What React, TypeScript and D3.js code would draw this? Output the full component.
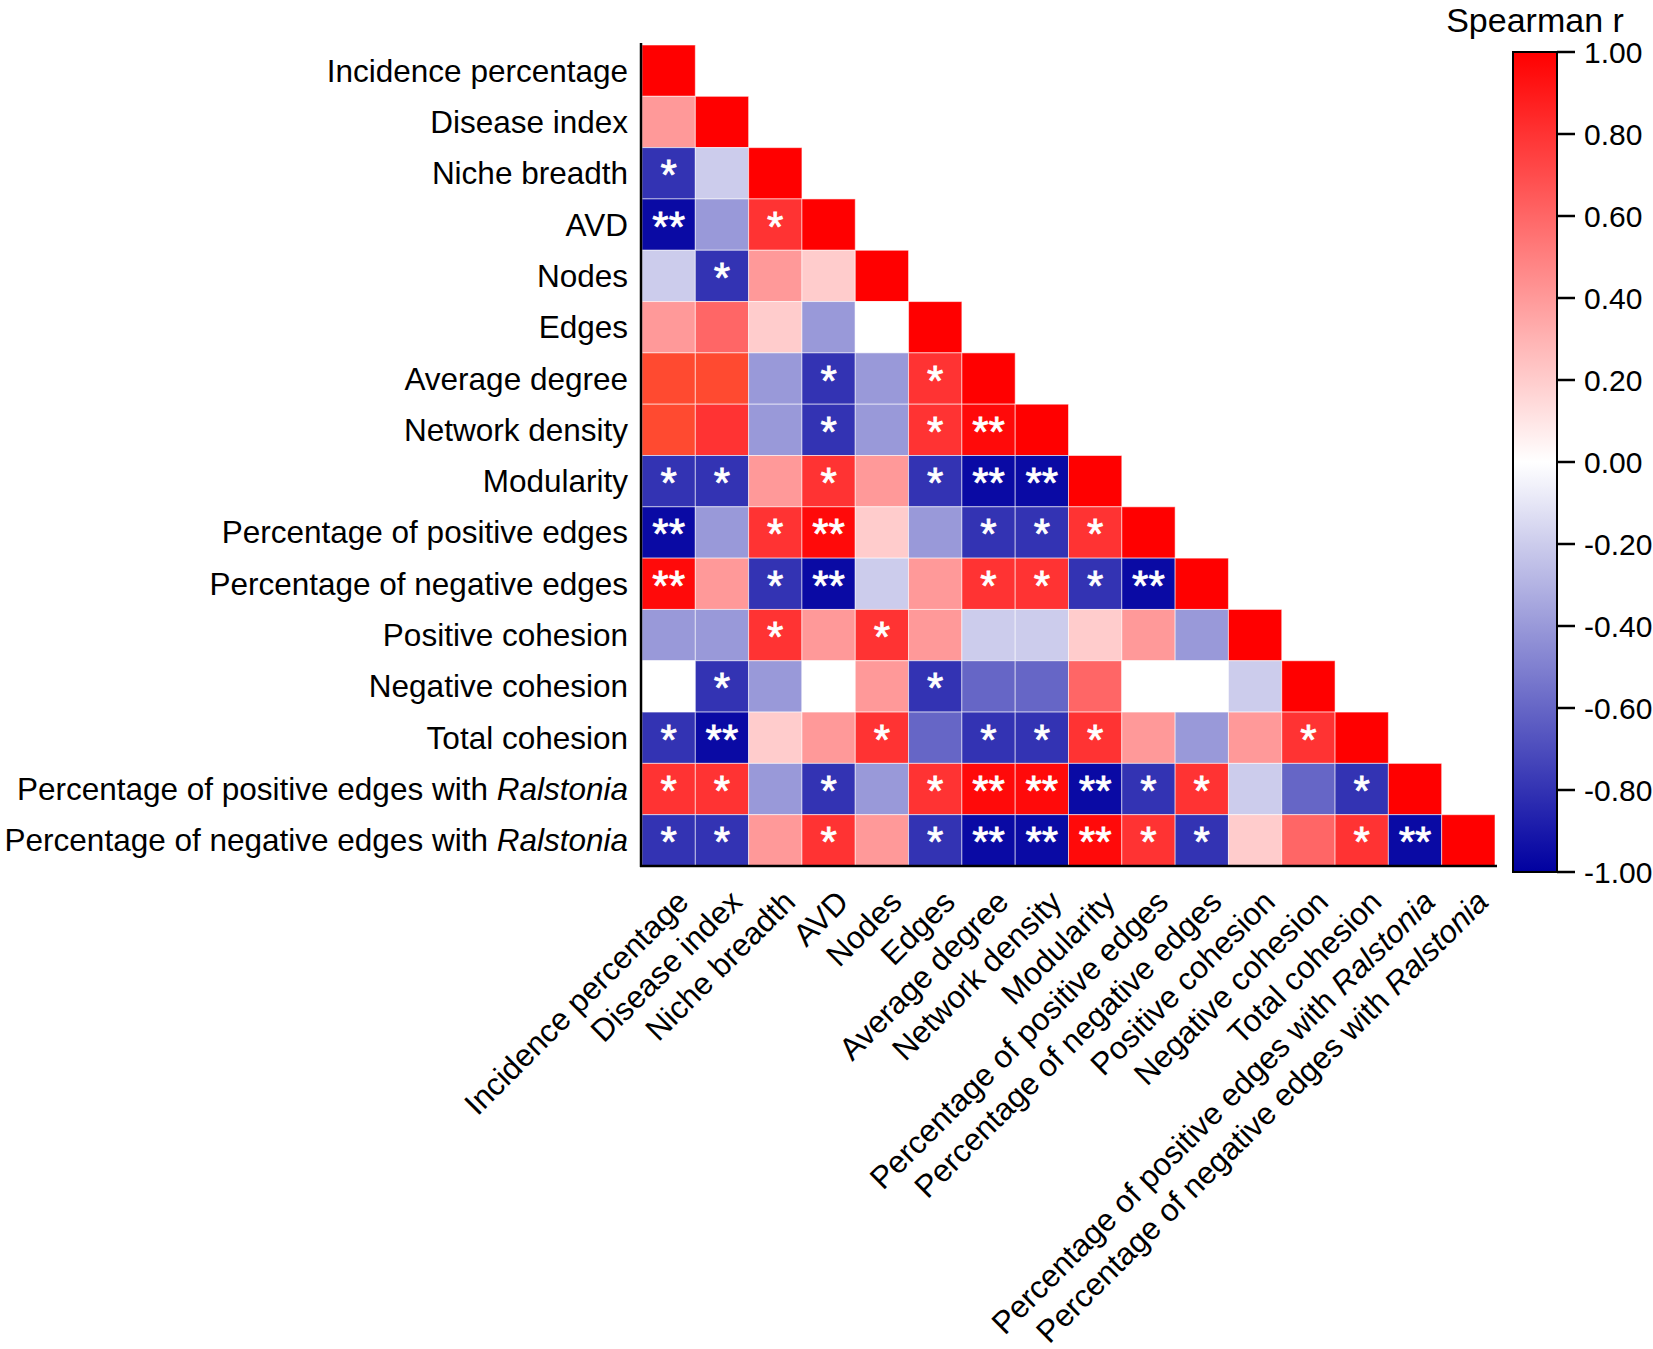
import React from "react";
import * as d3 from "d3";

// ---------- data ----------
const variables: string[] = [
  "Incidence percentage",
  "Disease index",
  "Niche breadth",
  "AVD",
  "Nodes",
  "Edges",
  "Average degree",
  "Network density",
  "Modularity",
  "Percentage of positive edges",
  "Percentage of negative edges",
  "Positive cohesion",
  "Negative cohesion",
  "Total cohesion",
  "Percentage of positive edges with |Ralstonia",
  "Percentage of negative edges with |Ralstonia",
];

// lower-triangle Spearman r (row i, columns 0..i)
const rValues: number[][] = [
  [1],
  [0.4, 1],
  [-0.8, -0.2, 1],
  [-0.96, -0.4, 0.8, 1],
  [-0.2, -0.8, 0.4, 0.2, 1],
  [0.4, 0.6, 0.2, -0.4, 0.0, 1],
  [0.7, 0.7, -0.4, -0.8, -0.4, 0.8, 1],
  [0.7, 0.8, -0.4, -0.8, -0.4, 0.8, 0.96, 1],
  [-0.8, -0.8, 0.4, 0.8, 0.4, -0.8, -0.96, -0.96, 1],
  [-0.96, -0.4, 0.8, 0.96, 0.2, -0.4, -0.8, -0.8, 0.8, 1],
  [0.96, 0.4, -0.8, -0.96, -0.2, 0.4, 0.8, 0.8, -0.8, -0.96, 1],
  [-0.4, -0.4, 0.8, 0.4, 0.8, 0.4, -0.2, -0.2, 0.2, 0.4, -0.4, 1],
  [0.0, -0.8, -0.4, 0.0, 0.4, -0.8, -0.6, -0.6, 0.6, 0.0, 0.0, -0.2, 1],
  [-0.8, -0.96, 0.2, 0.4, 0.8, -0.6, -0.8, -0.8, 0.8, 0.4, -0.4, 0.4, 0.8, 1],
  [0.8, 0.8, -0.4, -0.8, -0.4, 0.8, 0.96, 0.96, -0.96, -0.8, 0.8, -0.2, -0.6, -0.8, 1],
  [-0.8, -0.8, 0.4, 0.8, 0.4, -0.8, -0.96, -0.96, 0.96, 0.8, -0.8, 0.2, 0.6, 0.8, -0.96, 1],
];

// significance marks
const sigMarks: string[][] = [
  [""],
  ["", ""],
  ["*", "", ""],
  ["**", "", "*", ""],
  ["", "*", "", "", ""],
  ["", "", "", "", "", ""],
  ["", "", "", "*", "", "*", ""],
  ["", "", "", "*", "", "*", "**", ""],
  ["*", "*", "", "*", "", "*", "**", "**", ""],
  ["**", "", "*", "**", "", "", "*", "*", "*", ""],
  ["**", "", "*", "**", "", "", "*", "*", "*", "**", ""],
  ["", "", "*", "", "*", "", "", "", "", "", "", ""],
  ["", "*", "", "", "", "*", "", "", "", "", "", "", ""],
  ["*", "**", "", "", "*", "", "*", "*", "*", "", "", "", "*", ""],
  ["*", "*", "", "*", "", "*", "**", "**", "**", "*", "*", "", "", "*", ""],
  ["*", "*", "", "*", "", "*", "**", "**", "**", "*", "*", "", "", "*", "**", ""],
];

const legendTicks: number[] = [1, 0.8, 0.6, 0.4, 0.2, 0, -0.2, -0.4, -0.6, -0.8, -1];
const legendTitle = "Spearman r";

// ---------- layout ----------
const W = 1653;
const H = 1349;
const FONT = "'Liberation Sans', Arial, Helvetica, sans-serif";
const left = 642;
const right = 1495;
const top = 45;
const bottom = 866;

const cbX0 = 1513;
const cbX1 = 1557;
const cbTop = 52;
const cbBottom = 872;

const NAVY = "#0000a0";
const LABEL_SIZE = 31.5;

function Label({ text }: { text: string }) {
  const parts = text.split("|");
  return (
    <>
      <tspan>{parts[0]}</tspan>
      {parts[1] ? <tspan fontStyle="italic">{parts[1]}</tspan> : null}
    </>
  );
}

export default function App() {
  const idx = variables.map((_, i) => String(i));
  const x = d3.scaleBand<string>().domain(idx).range([left, right]).padding(0);
  const y = d3.scaleBand<string>().domain(idx).range([top, bottom]).padding(0);

  const cellColor = d3
    .scaleLinear<string>()
    .domain([-1, 0, 0.6, 0.7, 0.8, 1])
    .range([NAVY, "#ffffff", "#ff6666", "#ff4a30", "#ff3333", "#ff0000"])
    .clamp(true);

  const legendColor = d3
    .scaleLinear<string>()
    .domain([-1, 0, 1])
    .range([NAVY, "#ffffff", "#ff0000"]);

  const cbY = d3.scaleLinear().domain([-1, 1]).range([cbBottom, cbTop]);

  const fmt = (v: number) => (Math.abs(v) < 1e-9 ? "0.00" : v.toFixed(2));

  const cells: { i: number; j: number; v: number; s: string }[] = [];
  rValues.forEach((row, i) =>
    row.forEach((v, j) => cells.push({ i, j, v, s: sigMarks[i][j] }))
  );

  const gradStops = d3.range(0, 1.0001, 0.05);

  return (
    <svg
      width={W}
      height={H}
      viewBox={`0 0 ${W} ${H}`}
      style={{ position: "absolute", left: 0, top: 0, background: "#fff" }}
      fontFamily={FONT}
    >
      <defs>
        <linearGradient id="cbGrad" x1="0" y1="1" x2="0" y2="0">
          {gradStops.map((t) => (
            <stop key={t} offset={t} stopColor={legendColor(-1 + 2 * t)} />
          ))}
        </linearGradient>
      </defs>
      <rect x={0} y={0} width={W} height={H} fill="#fff" />

      {/* cells */}
      <g>
        {cells.map((c) => (
          <rect
            key={`${c.i}-${c.j}`}
            x={x(String(c.j))}
            y={y(String(c.i))}
            width={x.bandwidth()}
            height={y.bandwidth()}
            fill={cellColor(c.v)}
            stroke="rgba(255,255,255,0.55)"
            strokeWidth={1}
          />
        ))}
      </g>

      {/* significance */}
      <g>
        {cells
          .filter((c) => c.s)
          .map((c) => (
            <text
              key={`s-${c.i}-${c.j}`}
              x={(x(String(c.j)) as number) + x.bandwidth() / 2}
              y={(y(String(c.i)) as number) + y.bandwidth() / 2 + 16}
              textAnchor="middle"
              fill="#fff"
              stroke="#fff"
              strokeWidth={0.8}
              fontSize={42}
            >
              {c.s}
            </text>
          ))}
      </g>

      {/* axes lines */}
      <line x1={left - 1} x2={left - 1} y1={top - 2} y2={bottom + 1} stroke="#000" strokeWidth={2.5} />
      <line x1={left - 2} x2={right + 2} y1={bottom} y2={bottom} stroke="#000" strokeWidth={2.5} />

      {/* row labels */}
      <g fontSize={LABEL_SIZE} fill="#000">
        {variables.map((v, i) => (
          <text
            key={`r-${i}`}
            x={628}
            y={(y(String(i)) as number) + y.bandwidth() / 2}
            dy="0.35em"
            textAnchor="end"
          >
            <Label text={v} />
          </text>
        ))}
      </g>

      {/* column labels */}
      <g fontSize={LABEL_SIZE} fill="#000">
        {variables.map((v, i) => {
          const cx = (x(String(i)) as number) + x.bandwidth() / 2;
          return (
            <text
              key={`c-${i}`}
              transform={`translate(${cx + 14},${bottom + 30}) rotate(-45)`}
              dy="0.35em"
              textAnchor="end"
            >
              <Label text={v} />
            </text>
          );
        })}
      </g>

      {/* colour bar */}
      <rect
        x={cbX0}
        y={cbTop}
        width={cbX1 - cbX0}
        height={cbBottom - cbTop}
        fill="url(#cbGrad)"
        stroke="#000"
        strokeWidth={2}
      />
      <g fontSize={30} fill="#000">
        {legendTicks.map((t) => (
          <g key={`t-${t}`}>
            <line x1={cbX1} x2={cbX1 + 18} y1={cbY(t)} y2={cbY(t)} stroke="#000" strokeWidth={2.5} />
            <text x={cbX1 + 27} y={cbY(t)} dy="0.35em">
              {fmt(t)}
            </text>
          </g>
        ))}
      </g>
      <text x={(cbX0 + cbX1) / 2} y={32} textAnchor="middle" fontSize={34} fill="#000">
        {legendTitle}
      </text>
    </svg>
  );
}
